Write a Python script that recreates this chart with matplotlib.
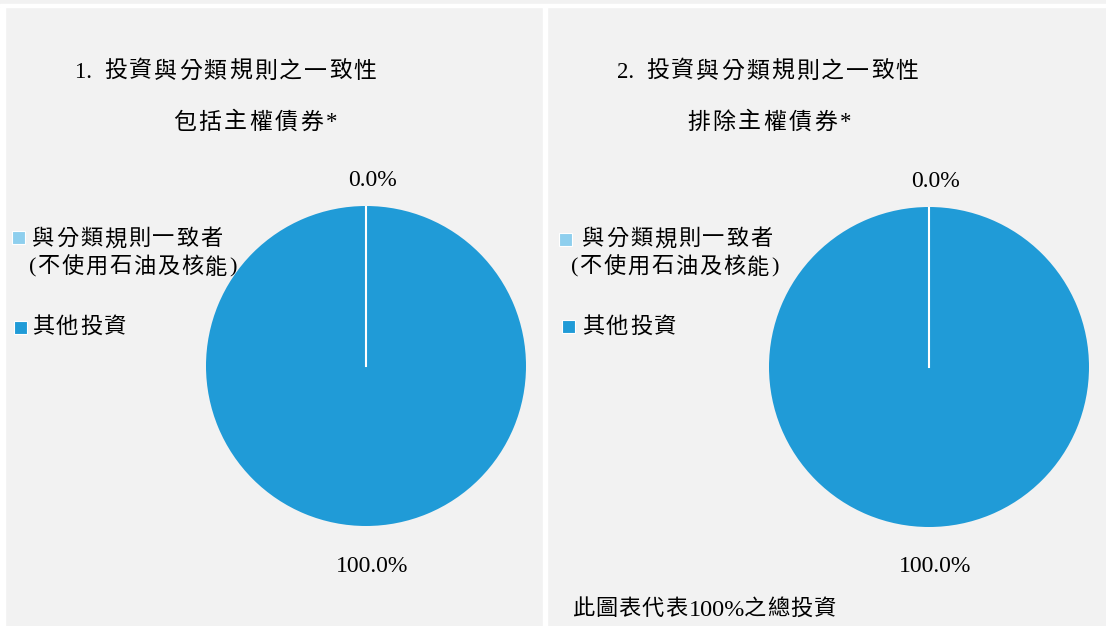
import numpy as np
import matplotlib.pyplot as plt
from matplotlib.patches import Rectangle

plt.rcParams['font.family'] = ['Liberation Serif', 'Noto Sans CJK TC']

# 資料
categories = ['與分類規則一致者', '(不使用石油及核能)', '其他投資']
incl_sovereign = [0.0, 100.0]
excl_sovereign = [0.0, 100.0]
colors = ['#8ecfee', '#209bd7']
panel_titles = ['1. 投資與分類規則之一致性', '2. 投資與分類規則之一致性']
panel_subtitles = ['包括主權債券*', '排除主權債券*']
footnote = '此圖表代表100%之總投資'

W, H = 1106, 626
fig = plt.figure(figsize=(W / 100, H / 100), dpi=100, facecolor='#f2f2f2')
renderer = fig.canvas.get_renderer()

# 白色分隔線
fig.add_artist(Rectangle((0, 1 - 7 / H), 1, 3 / H, transform=fig.transFigure, color='white', zorder=0))
fig.add_artist(Rectangle((0, 0), 5 / W, 1 - 7 / H, transform=fig.transFigure, color='white', zorder=0))
fig.add_artist(Rectangle((543 / W, 0), 4 / W, 1 - 7 / H, transform=fig.transFigure, color='white', zorder=0))


def px(x, y):
    return x / W, 1 - y / H


def is_cjk(ch):
    return ord(ch[0]) > 0x2e80


def spaced_text(x, y, s, fontsize=16, pitch=24, latin_fs=16, gap=1):
    # 中文字逐字排列（加字距），英數字一段一段畫
    tokens = []
    for ch in s:
        if is_cjk(ch) or not tokens or is_cjk(tokens[-1][-1]):
            tokens.append(ch)
        else:
            tokens[-1] += ch
    cur = x
    for tok in tokens:
        if is_cjk(tok):
            fig.text(*px(cur, y), tok, ha='left', va='center', fontsize=fontsize)
            cur += pitch
        else:
            t = fig.text(*px(cur, y), tok, ha='left', va='center', fontsize=latin_fs)
            cur += t.get_window_extent(renderer).width + gap


panels = [
    dict(vals=incl_sovereign, cx=366, cy=366, title_x=75, sub_x=173,
         leg_sq=[(12, 231), (14, 321)], leg_tx=[32, 29, 32]),
    dict(vals=excl_sovereign, cx=929, cy=367, title_x=617, sub_x=687,
         leg_sq=[(559, 233), (562, 320)], leg_tx=[582, 571, 582]),
]
r = 160
fs_num = 17

for i, p in enumerate(panels):
    ax = fig.add_axes([(p['cx'] - r) / W, 1 - (p['cy'] + r) / H, 2 * r / W, 2 * r / H])
    ax.set_facecolor('none')
    wedges, _ = ax.pie(p['vals'], colors=colors, startangle=90, counterclock=False, radius=1)
    ax.set_xlim(-1, 1)
    ax.set_ylim(-1, 1)
    ax.set_aspect('equal')
    ax.axis('off')

    # 扇形邊界白線
    a0 = np.deg2rad(wedges[0].theta2)
    ax.plot([0, np.cos(a0)], [0, np.sin(a0)], color='white', lw=1.5)

    # 百分比標籤
    dists = [1.16, 1.25]
    for w, v, d in zip(wedges, p['vals'], dists):
        ang = np.deg2rad((w.theta1 + w.theta2) / 2)
        ax.text(d * np.cos(ang) + 0.04, d * np.sin(ang), f'{v:.1f}%',
                ha='center', va='center', fontsize=fs_num, clip_on=False)

    # 標題
    spaced_text(p['title_x'], 72, panel_titles[i], fontsize=16.5, pitch=25, latin_fs=16.5, gap=6)
    spaced_text(p['sub_x'], 123, panel_subtitles[i], fontsize=16.5, pitch=25.5, latin_fs=16.5)

    # 圖例
    for (sx, sy), c in zip(p['leg_sq'], colors):
        fig.add_artist(Rectangle(px(sx, sy + 13), 13 / W, 13 / H, transform=fig.transFigure,
                                 facecolor=c, edgecolor='white', linewidth=0.8))
    for tx, ty, lab in zip(p['leg_tx'], [240, 268, 328], categories):
        spaced_text(tx, ty, lab)

spaced_text(572, 610, footnote, pitch=23.3, latin_fs=17.5, gap=-1)

fig.savefig('out.png', dpi=100, facecolor=fig.get_facecolor())
